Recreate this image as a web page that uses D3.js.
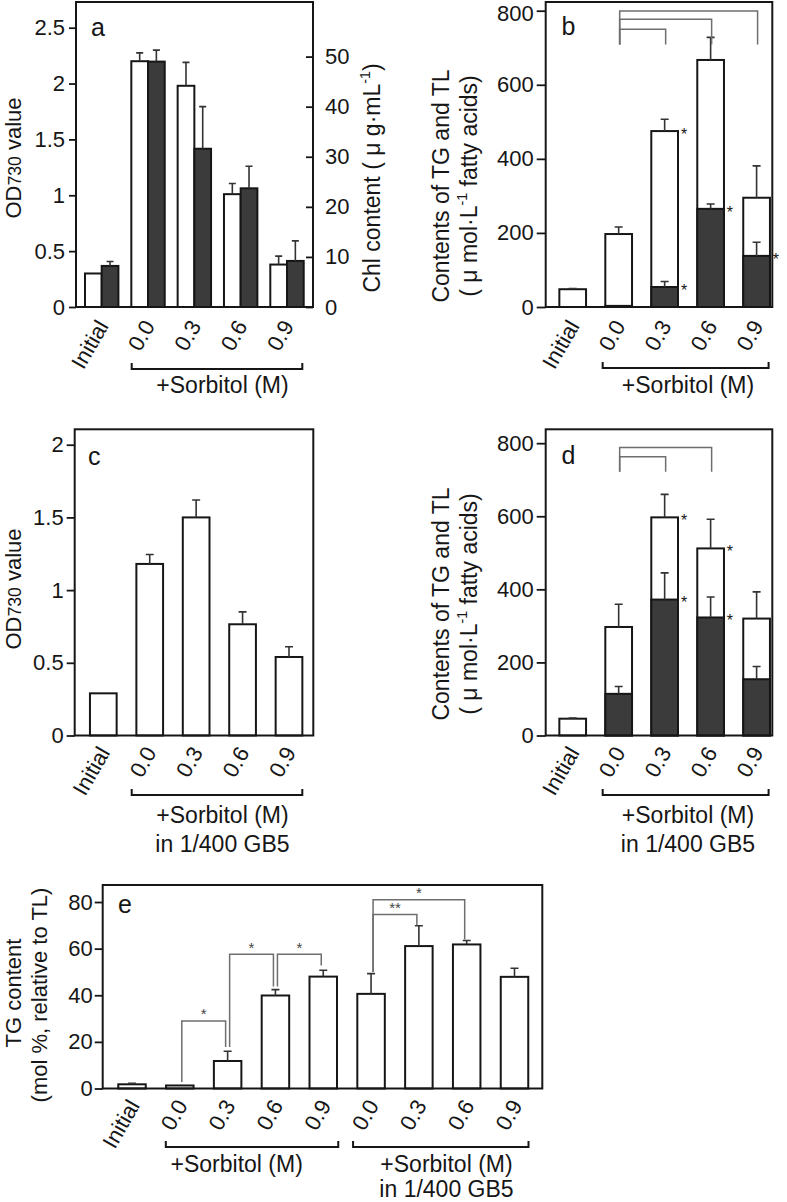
<!DOCTYPE html>
<html><head><meta charset="utf-8">
<script src="https://cdn.jsdelivr.net/npm/d3@7"></script>
<style>body{margin:0;background:#fff} svg{display:block}</style>
</head><body><svg id="chart" width="787" height="1202"></svg>
<script>
// ---------- data ----------
const categories = ["Initial", "0.0", "0.3", "0.6", "0.9"];
// panel a
const aOD = [0.30, 2.20, 1.98, 1.01, 0.38];
const aODErr = [0, 0.075, 0.21, 0.095, 0.075];
const aChl = [8.2, 49.0, 31.6, 23.7, 9.2];
const aChlErr = [0.9, 2.3, 8.4, 4.4, 4.0];
const aLeftTicks = [0, 0.5, 1, 1.5, 2, 2.5];
const aLeftTickLabels = ["0", "0.5", "1", "1.5", "2", "2.5"];
const aRightTicks = [0, 10, 20, 30, 40, 50];
// panel b
const bTL = [48, 197, 475, 667, 295];
const bTLErr = [2, 19, 32, 61, 86];
const bTG = [0, 3, 54, 265, 138];
const bTGErr = [0, 0, 15, 13, 37];
const bTLStar = [false, false, true, false, false];
const bTGStar = [false, false, true, true, true];
const bTicks = [0, 200, 400, 600, 800];
const bBrackets = [[1, 2, 750], [1, 3, 777], [1, 4, 799]];
const bBracketBase = 709;
// panel c
const cOD = [0.29, 1.18, 1.50, 0.765, 0.54];
const cODErr = [0, 0.065, 0.12, 0.085, 0.07];
const cTicks = [0, 0.5, 1, 1.5, 2];
const cTickLabels = ["0", "0.5", "1", "1.5", "2"];
// panel d
const dTL = [46, 297, 597, 512, 320];
const dTLErr = [2, 62, 63, 80, 73];
const dTG = [0, 114, 372, 323, 154];
const dTGErr = [0, 20, 73, 56, 35];
const dTLStar = [false, false, true, true, false];
const dTGStar = [false, false, true, true, false];
const dTicks = [0, 200, 400, 600, 800];
const dBrackets = [[1, 2, 763], [1, 3, 788]];
const dBracketBase = 722;
// panel e
const eCategories = ["Initial", "0.0", "0.3", "0.6", "0.9", "0.0", "0.3", "0.6", "0.9"];
const eTG = [1.8, 1.3, 11.8, 39.9, 48.0, 40.6, 61.1, 61.8, 47.9];
const eErr = [0.4, 0.2, 4.2, 2.5, 2.7, 8.7, 8.7, 1.7, 3.7];
const eTicks = [0, 20, 40, 60, 80];
// from, to, from-foot, to-foot, level, mark
const eBrackets = [
  [1, 2, 2.8, 17.8, 29, "*"],
  [2, 3, 17.8, 43.8, 57.6, "*"],
  [3, 4, 43.8, 52.8, 57.6, "*"],
  [5, 6, 50, 70, 74.6, "**"],
  [5, 7, 50, 63.9, 81, "*"]
];

// ---------- drawing ----------
const FONT = '"Liberation Sans", Arial, Helvetica, sans-serif';
const INK = "#161616", DARK = "#3b3b3b", GRAY = "#6e6e6e", ERR = "#333";
const svg = d3.select("#chart").attr("font-family", FONT);
svg.append("rect").attr("width", 787).attr("height", 1202).attr("fill", "#fff");

function frame(x0, y0, x1, y1) {
  svg.append("rect").attr("x", x0).attr("y", y0).attr("width", x1 - x0).attr("height", y1 - y0)
    .attr("fill", "none").attr("stroke", INK).attr("stroke-width", 2);
}
function styleAxis(g) {
  g.select(".domain").remove();
  g.selectAll("line").attr("stroke", INK).attr("stroke-width", 1.8);
  g.selectAll("text").attr("font-size", 22).attr("font-family", FONT).attr("fill", INK);
}
function leftAxis(y, x0, ticks, fmt, size, pad) {
  const g = svg.append("g").attr("transform", `translate(${x0},0)`)
    .call(d3.axisLeft(y).tickValues(ticks).tickFormat(fmt).tickSize(size).tickPadding(pad));
  styleAxis(g);
  return g;
}
function catAxis(x, yAxis, fmt, dx, dy) {
  const g = svg.append("g").attr("transform", `translate(0,${yAxis})`)
    .call(d3.axisBottom(x).tickSize(0).tickPadding(0).tickFormat(fmt));
  styleAxis(g);
  g.selectAll("line").remove();
  g.selectAll("text").attr("y", 0).attr("dy", 0).attr("text-anchor", "end")
    .attr("transform", `translate(${dx},${dy}) rotate(-60)`);
}
function groupBracket(x1, x2, y, lines, cx, baselines) {
  svg.append("path").attr("d", `M${x1},${y - 6}V${y}H${x2}V${y - 6}`)
    .attr("fill", "none").attr("stroke", INK).attr("stroke-width", 2);
  lines.forEach((t, i) => svg.append("text").attr("x", cx).attr("y", baselines[i])
    .attr("text-anchor", "middle").attr("font-size", 23).attr("fill", INK).text(t));
}
function errBar(x, yTop, yErr, cap) {
  if (Math.abs(yTop - yErr) < 0.5) return;
  svg.append("path").attr("d", `M${x},${yTop}V${yErr}M${x - cap},${yErr}H${x + cap}`)
    .attr("fill", "none").attr("stroke", ERR).attr("stroke-width", 1.6);
}
function bar(x0, w, yTop, yBase, fill) {
  svg.append("rect").attr("x", x0).attr("y", yTop).attr("width", w).attr("height", Math.max(0, yBase - yTop))
    .attr("fill", fill).attr("stroke", INK).attr("stroke-width", 2);
}
function star(x, y, t, fs) {
  svg.append("text").attr("x", x).attr("y", y + fs * 0.55).attr("text-anchor", "middle")
    .attr("font-size", fs).attr("fill", INK).text(t);
}
function letter(x, y, t) {
  svg.append("text").attr("x", x).attr("y", y).attr("font-size", 25).attr("fill", INK).text(t);
}
function vTitle(x, y, parts, fs) {
  const t = svg.append("text").attr("transform", `translate(${x},${y}) rotate(-90)`)
    .attr("text-anchor", "middle").attr("font-size", fs).attr("fill", INK);
  parts.forEach(p => {
    const s = t.append("tspan").text(p.t);
    if (p.sub) s.attr("font-size", fs * 0.8);
    if (p.sup) s.attr("font-size", fs * 0.62).attr("dy", -fs * 0.42);
    if (p.after) s.attr("dy", fs * 0.42);
  });
}
function sigBracket(x1, x2, yf1, yf2, yl, mark, fs) {
  svg.append("path").attr("d", `M${x1},${yf1}V${yl}H${x2}V${yf2}`)
    .attr("fill", "none").attr("stroke", GRAY).attr("stroke-width", 1.5);
  if (mark) svg.append("text").attr("x", (x1 + x2) / 2).attr("y", yl - 1.5).attr("text-anchor", "middle")
    .attr("font-size", fs).attr("fill", "#444").text(mark);
}

// ===== Panel a =====
{
  const L = 76, R = 313, T = 2, B = 307;
  const x = d3.scalePoint().domain(categories).range([101.7, 287]);
  const y = d3.scaleLinear().domain([0, 2.73]).range([B, T]);
  const yR = d3.scaleLinear().domain([0, 60.9]).range([B, T]);
  const w = 16.7;
  categories.forEach((c, i) => {
    const cx = x(c);
    bar(cx - w, w, y(aOD[i]), B, "#fff");
    bar(cx, w, yR(aChl[i]), B, DARK);
    errBar(cx - w / 2, y(aOD[i]), y(aOD[i] + aODErr[i]), 3.5);
    errBar(cx + w / 2, yR(aChl[i]), yR(aChl[i] + aChlErr[i]), 3.5);
  });
  frame(L, T, R, B);
  leftAxis(y, L, aLeftTicks, (d, i) => aLeftTickLabels[i], 7, 4);
  const g = svg.append("g").attr("transform", `translate(${R},0)`)
    .call(d3.axisRight(yR).tickValues(aRightTicks).tickSize(-7).tickPadding(12));
  styleAxis(g);
  letter(91, 36, "a");
  catAxis(x, B, d => d, 7, 19);
  groupBracket(131.7, 302.3, 369, ["+Sorbitol (M)"], 222.5, [393]);
  vTitle(20.5, 158, [{t: "OD"}, {t: "730", sub: true}, {t: " value"}], 22);
  vTitle(380, 178, [{t: "Chl content ( μ g·mL"}, {t: "-1", sup: true}, {t: ")", after: true}], 23);
}

// ===== Panels b / d =====
function stackedPanel(T, B, yMax, TL, TLErr, TG, TGErr, TLStar, TGStar, ticks, brackets, base, letterPos, bracketY, textLines, textBase, titleY, lbl) {
  const L = 545.7, R = 772.3;
  const x = d3.scalePoint().domain(categories).range([572.7, 756.6]);
  const y = d3.scaleLinear().domain([0, yMax]).range([B, T]);
  const w = 26.7;
  categories.forEach((c, i) => {
    const cx = x(c);
    bar(cx - w / 2, w, y(TL[i]), B, "#fff");
    if (TG[i] > 0) bar(cx - w / 2, w, y(TG[i]), B, DARK);
    errBar(cx, y(TL[i]), y(TL[i] + TLErr[i]), 4);
    if (TG[i] > 0) errBar(cx, y(TG[i]), y(TG[i] + TGErr[i]), 4);
    if (TLStar[i]) star(cx + w / 2 + 6, y(TL[i]), "*", 16);
    if (TGStar[i]) star(cx + w / 2 + 6, y(TG[i]), "*", 16);
  });
  brackets.forEach(([f, t, lv]) => sigBracket(x(categories[f]) + 1, x(categories[t]) + 1, y(base), y(base), y(lv), null, 14));
  frame(L, T, R, B);
  const g = leftAxis(y, L, ticks, d3.format("d"), 9, 3);
  if (T < 10) g.selectAll("text").filter(d => d === ticks[ticks.length - 1]).attr("dy", "0.46em");
  letter(561.5, letterPos, lbl);
  catAxis(x, B, d => d, 7, T < 100 ? 19 : 17);
  groupBracket(x("0.0") - 16, x("0.9") + 12, bracketY, textLines, 688, textBase);
  vTitle(448.5, titleY, [{t: "Contents of TG and TL"}], 23);
  vTitle(477, titleY, [{t: "( μ mol·L"}, {t: "-1", sup: true}, {t: " fatty acids)", after: true}], 23);
}
stackedPanel(2, 307, 823.5, bTL, bTLErr, bTG, bTGErr, bTLStar, bTGStar, bTicks, bBrackets, bBracketBase,
  35, 368, ["+Sorbitol (M)"], [393], 186, "b");

// ===== Panel c =====
{
  const L = 74.7, R = 313.3, T = 429.3, B = 735.5;
  const x = d3.scalePoint().domain(categories).range([103.3, 289]);
  const y = d3.scaleLinear().domain([0, 2.106]).range([B, T]);
  const w = 26.7;
  categories.forEach((c, i) => {
    const cx = x(c);
    bar(cx - w / 2, w, y(cOD[i]), B, "#fff");
    errBar(cx, y(cOD[i]), y(cOD[i] + cODErr[i]), 4);
  });
  frame(L, T, R, B);
  leftAxis(y, L, cTicks, (d, i) => cTickLabels[i], 8, 3);
  letter(88, 465, "c");
  catAxis(x, B, d => d, 7, 17);
  groupBracket(131.7, 302.3, 795, ["+Sorbitol (M)", "in 1/400 GB5"], 222.5, [823, 851.5]);
  vTitle(20.5, 589, [{t: "OD"}, {t: "730", sub: true}, {t: " value"}], 22);
}

// ===== Panel d =====
stackedPanel(429.3, 735.5, 838, dTL, dTLErr, dTG, dTGErr, dTLStar, dTGStar, dTicks, dBrackets, dBracketBase,
  463.5, 795, ["+Sorbitol (M)", "in 1/400 GB5"], [823, 851.5], 604, "d");

// ===== Panel e =====
{
  const L = 102.7, R = 542.3, T = 885, B = 1088.5;
  const idx = d3.range(eCategories.length);
  const x = d3.scalePoint().domain(idx).range([132, 514.5]);
  const y = d3.scaleLinear().domain([0, 87.3]).range([B, T]);
  const w = 27.5;
  idx.forEach(i => {
    const cx = x(i);
    bar(cx - w / 2, w, y(eTG[i]), B, "#fff");
    errBar(cx, y(eTG[i]), y(eTG[i] + eErr[i]), 4);
  });
  eBrackets.forEach(([f, t, ff, tf, lv, m]) =>
    sigBracket(x(f) + 2, x(t) - 2, y(ff), y(tf), y(lv), m, 15));
  frame(L, T, R, B);
  leftAxis(y, L, eTicks, d3.format("d"), 8, 2);
  letter(118, 913, "e");
  catAxis(x, B, i => eCategories[i], 8, 17);
  groupBracket(x(1) - 14, x(4) + 15, 1147, ["+Sorbitol (M)"], 236.7, [1171.5]);
  groupBracket(x(5) - 18, x(8) + 14, 1147, ["+Sorbitol (M)", "in 1/400 GB5"], 446.5, [1171.5, 1196.5]);
  vTitle(21, 993, [{t: "TG content"}], 22);
  vTitle(47, 995, [{t: "(mol %, relative to TL)"}], 22);
}
</script></body></html>
